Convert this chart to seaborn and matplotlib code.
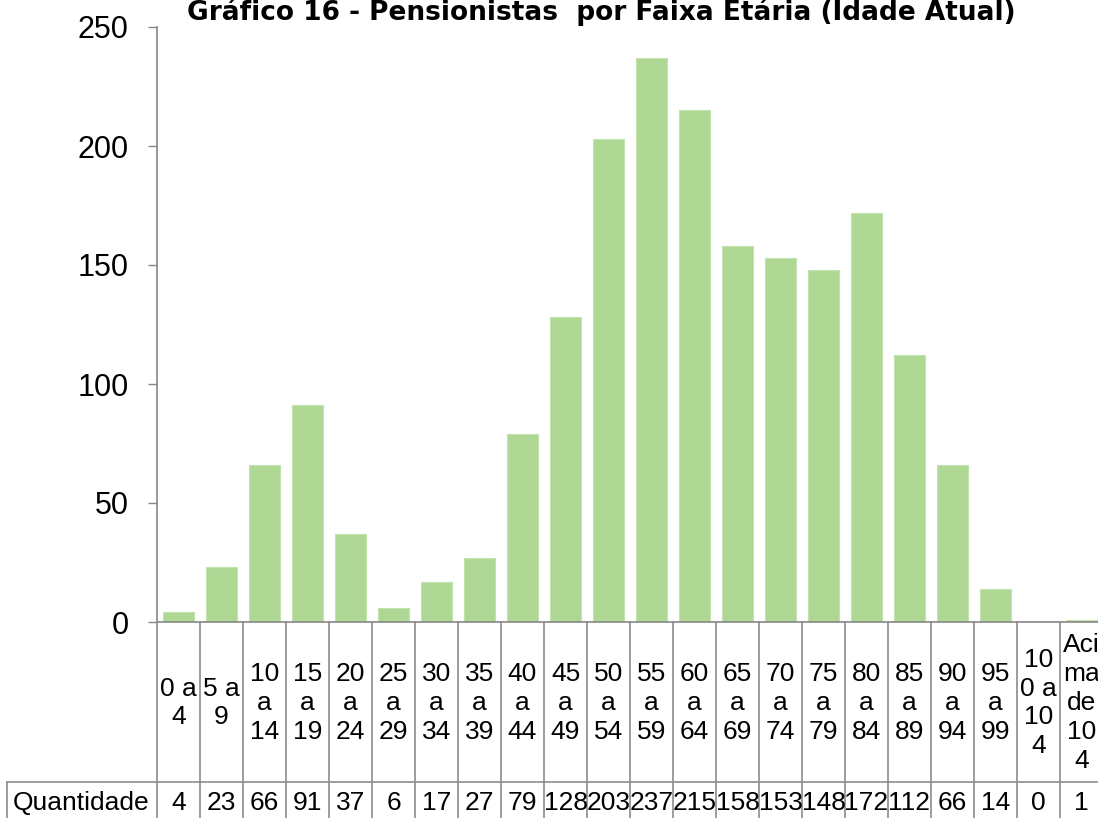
import matplotlib
matplotlib.use("Agg")
import matplotlib.pyplot as plt
import matplotlib.transforms as mtransforms
import seaborn as sns
import pandas as pd

categories = ["0 a 4", "5 a 9", "10 a 14", "15 a 19", "20 a 24", "25 a 29", "30 a 34",
              "35 a 39", "40 a 44", "45 a 49", "50 a 54", "55 a 59", "60 a 64", "65 a 69",
              "70 a 74", "75 a 79", "80 a 84", "85 a 89", "90 a 94", "95 a 99",
              "100 a 104", "Acima de 104"]
header_labels = ["0 a\n4", "5 a\n9", "10\na\n14", "15\na\n19", "20\na\n24", "25\na\n29",
                 "30\na\n34", "35\na\n39", "40\na\n44", "45\na\n49", "50\na\n54", "55\na\n59",
                 "60\na\n64", "65\na\n69", "70\na\n74", "75\na\n79", "80\na\n84", "85\na\n89",
                 "90\na\n94", "95\na\n99", "10\n0 a\n10\n4", "Aci\nma\nde\n10\n4"]
quantidade = [4, 23, 66, 91, 37, 6, 17, 27, 79, 128, 203, 237, 215, 158, 153, 148, 172,
              112, 66, 14, 0, 1]
yticks = [0, 50, 100, 150, 200, 250]
title = "Gráfico 16 - Pensionistas  por Faixa Etária (Idade Atual)"
row_label = "Quantidade"

sns.set_theme(style="white")
plt.rcParams["font.family"] = ["Liberation Sans", "DejaVu Sans"]

W, H = 1098, 818
fig = plt.figure(figsize=(W / 100, H / 100), dpi=100)
ax_left, ax_right, ax_top, ax_bottom = 157, 157 + 22 * 43, 27, 622
ax = fig.add_axes([ax_left / W, (H - ax_bottom) / H, (ax_right - ax_left) / W,
                   (ax_bottom - ax_top) / H])

df = pd.DataFrame({"cat": categories, "val": quantidade})
sns.barplot(data=df, x="cat", y="val", order=categories, color="#AED794",
            saturation=1, width=0.74, edgecolor="#C4E2AD", linewidth=0.8, ax=ax)

ax.set_xlim(-0.5, len(categories) - 0.5)
ax.set_ylim(0, 250)
ax.set_yticks(yticks)
ax.set_yticklabels([str(v) for v in yticks], fontsize=22, color="black")
ax.set_xticks([])
ax.set_xlabel("")
ax.set_ylabel("")
ax.tick_params(axis="y", direction="out", length=6.5, width=1, color="#878787", pad=14,
               left=True, labelcolor="black")
for s in ["top", "right"]:
    ax.spines[s].set_visible(False)
for s in ["left", "bottom"]:
    ax.spines[s].set_color("#878787")
    ax.spines[s].set_linewidth(1.2)

gray = "#8C8C8C"
trans = mtransforms.blended_transform_factory(ax.transData, ax.transAxes)
axh = ax_bottom - ax_top


def yfrac(p):
    return (ax_bottom - p) / axh


# table grid
y_bottom = yfrac(H + 5)
y_rowline = yfrac(782)
x_box = -0.5 - (157 - 7) / 43
for i in range(len(categories) + 1):
    ax.plot([i - 0.5, i - 0.5], [0, y_bottom], transform=trans, color=gray, lw=1.2,
            clip_on=False)
ax.plot([x_box, len(categories) - 0.5], [y_rowline, y_rowline],
        transform=trans, color=gray, lw=1.2, clip_on=False)
ax.plot([x_box] * 2, [y_rowline, y_bottom], transform=trans, color=gray,
        lw=1.2, clip_on=False)

for i, (lab, v) in enumerate(zip(header_labels, quantidade)):
    ax.text(i, yfrac(703), lab, transform=trans, ha="center", va="center", fontsize=19,
            linespacing=1.25, color="black", clip_on=False)
    ax.text(i, yfrac(803), str(v), transform=trans, ha="center", va="center", fontsize=19,
            color="black", clip_on=False)

fig.text(13 / W, 1 - 803 / H, row_label, ha="left", va="center", fontsize=19, color="black")

fig.text(601 / W, 1 - 20 / H, title, ha="center", va="baseline", fontsize=19,
         fontweight="bold", color="black", family=["DejaVu Sans"])

fig.savefig("out.png", dpi=100)
